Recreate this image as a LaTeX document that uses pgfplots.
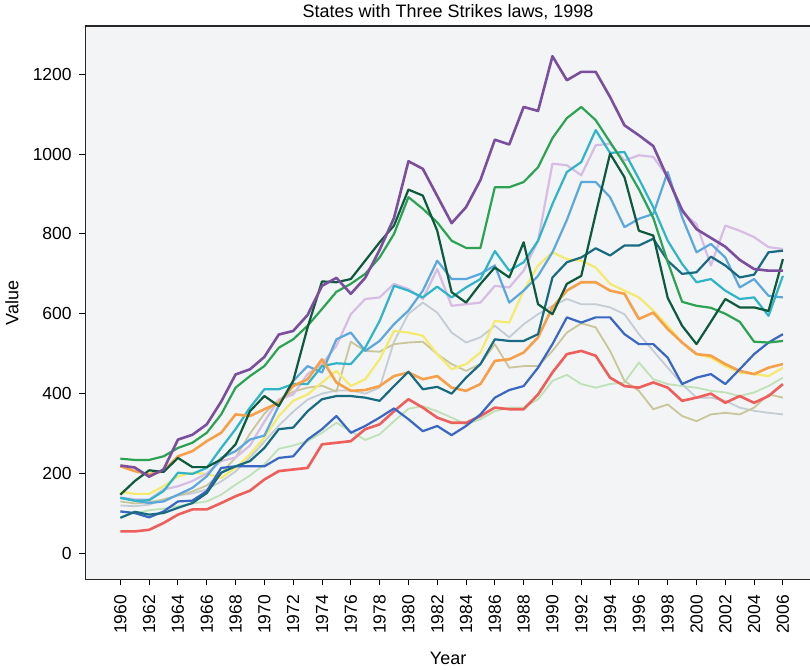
\documentclass[border=0pt]{standalone}
\usepackage{pgfplots}
\usepackage{pgfplotstable}
\pgfplotsset{compat=1.18}
\usepackage{fontspec}
\setmainfont{Liberation Sans}
\usetikzlibrary{calc}

\definecolor{cP}{HTML}{7B4F9E}
\definecolor{cG}{HTML}{2BA352}
\definecolor{cDG}{HTML}{0E5A3C}
\definecolor{cC}{HTML}{2FB4C8}
\definecolor{cLB}{HTML}{5CA7DE}
\definecolor{cL}{HTML}{D7BDE4}
\definecolor{cDT}{HTML}{186B80}
\definecolor{cY}{HTML}{F4EA6E}
\definecolor{cO}{HTML}{F7A04A}
\definecolor{cGR}{HTML}{C4CCD4}
\definecolor{cK}{HTML}{C9C69A}
\definecolor{cB}{HTML}{3A67C3}
\definecolor{cR}{HTML}{EE5E5A}
\definecolor{cLG}{HTML}{BEE2B6}
\definecolor{bgc}{HTML}{F3F4F6}

\pgfplotstableread{
year P G DG C LB L DT Y O GR K B R LG
1960 220 237 147 139 139 140 89 154 218 120 130 105 55 105
1961 215 234 181 132 132 135 104 149 206 118 125 101 55 100
1962 192 234 208 133 126 135 97 149 198 122 128 90 59 108
1963 210 243 204 156 130 160 101 168 206 135 135 105 76 112
1964 285 264 239 202 147 168 114 193 243 145 145 130 97 118
1965 297 277 216 199 164 181 126 202 256 150 155 132 110 125
1966 323 302 216 214 193 200 151 199 281 160 170 156 110 130
1967 380 348 235 264 239 231 202 189 302 180 200 214 126 147
1968 448 415 273 311 256 240 218 214 348 205 240 218 143 172
1969 461 444 356 365 285 270 231 248 344 240 300 218 157 195
1970 492 469 394 411 295 330 264 290 361 280 350 218 185 223
1971 548 515 369 411 370 385 311 344 377 320 385 239 206 262
1972 557 536 432 424 432 398 315 382 419 355 405 243 210 270
1973 597 570 566 424 469 449 356 398 436 385 415 285 214 281
1974 670 612 681 469 453 474 386 428 486 400 420 311 273 302
1975 690 655 679 476 536 520 394 457 428 408 405 344 277 327
1976 650 675 687 474 553 599 394 419 407 408 530 302 281 306
1977 690 700 733 515 507 637 390 436 409 400 507 319 311 284
1978 760 741 779 582 532 641 382 486 419 415 505 340 323 298
1979 840 800 821 670 574 675 419 557 444 530 524 363 356 331
1980 982 892 911 658 608 662 455 553 453 600 528 336 386 362
1981 963 863 896 641 658 637 411 545 436 628 530 306 365 369
1982 895 829 808 668 733 712 417 499 444 603 499 319 340 356
1983 827 783 654 641 687 620 400 461 415 553 474 296 327 340
1984 867 765 628 666 687 624 440 474 407 528 457 319 327 323
1985 935 765 675 687 700 628 474 503 424 541 474 348 344 336
1986 1036 917 716 757 721 670 536 582 482 570 524 390 365 356
1987 1024 917 691 708 628 666 532 578 486 541 465 409 361 365
1988 1118 930 779 729 658 708 532 658 503 574 469 419 361 365
1989 1108 967 624 783 695 783 549 721 541 599 469 465 398 386
1990 1245 1040 599 875 754 976 691 754 616 620 507 524 453 432
1991 1185 1090 675 955 835 972 729 737 658 637 553 591 499 447
1992 1206 1118 695 980 930 947 741 733 679 624 576 578 507 424
1993 1206 1085 850 1060 930 1022 764 716 679 624 566 591 495 415
1994 1143 1030 1001 1003 892 1026 746 675 658 616 507 591 440 424
1995 1072 975 942 1005 817 984 771 658 650 599 432 549 419 428
1996 1047 912 808 938 838 997 771 641 587 549 407 524 415 478
1997 1020 840 796 867 850 993 788 608 603 507 361 524 428 436
1998 940 730 640 783 955 942 733 570 562 465 373 490 415 424
1999 860 630 570 725 842 854 700 528 528 424 344 424 382 419
2000 812 620 524 679 754 825 704 499 499 390 331 440 390 415
2001 790 615 580 687 775 721 743 490 495 390 348 449 400 407
2002 768 600 637 658 741 821 721 469 474 382 352 424 377 403
2003 735 580 616 637 666 808 691 453 457 365 348 461 394 394
2004 712 530 616 641 687 792 698 449 449 357 365 499 377 403
2005 708 528 607 595 645 767 754 444 465 352 398 528 394 419
2006 708 532 737 695 641 762 758 465 474 348 390 549 424 440
}\data

\begin{document}
\begin{tikzpicture}
\begin{axis}[
  name=ax,
  scale only axis, width=724bp, height=552bp,
  xmin=1957.56, xmax=2007.95, ymin=-65.3, ymax=1320.6,
  axis background/.style={fill=bgc},
  axis line style={draw=black!85, line width=1.2pt},
  xtick={1960,1962,...,2006},
  ytick={0,200,...,1200},
  tick pos=left,
  tick align=outside, major tick length=6bp,
  tick style={black, line width=1pt},
  xticklabel shift=6bp,
  yticklabel shift=4bp,
  xticklabel style={rotate=90, anchor=east, font=\fontsize{17.5}{20}\selectfont},
  yticklabel style={font=\fontsize{17.5}{20}\selectfont},
  /pgf/number format/assume math mode=true,
  /pgf/number format/1000 sep={},
  title={States with Three Strikes laws, 1998},
  title style={font=\fontsize{18}{21}\selectfont, at={(axis description cs:0.5,1)}, anchor=south, yshift=-3bp},
  xlabel={Year}, ylabel={Value},
  xlabel style={font=\fontsize{18}{21}\selectfont, at={(axis description cs:0.5,-0.1431)}, anchor=center},
  ylabel style={font=\fontsize{18}{21}\selectfont, at={(axis description cs:-0.1008,0.5)}, anchor=center},
  no markers,
  every axis plot/.append style={line join=round, line width=2.2bp},
]
\addplot[cLG, line width=1.8bp] table[x=year, y=LG] {\data};
\addplot[cGR, line width=1.8bp] table[x=year, y=GR] {\data};
\addplot[cK, line width=1.8bp] table[x=year, y=K] {\data};
\addplot[cY] table[x=year, y=Y] {\data};
\addplot[cL] table[x=year, y=L] {\data};
\addplot[cLB] table[x=year, y=LB] {\data};
\addplot[cC] table[x=year, y=C] {\data};
\addplot[cO, line width=2.6bp] table[x=year, y=O] {\data};
\addplot[cR, line width=2.6bp] table[x=year, y=R] {\data};
\addplot[cB] table[x=year, y=B] {\data};
\addplot[cDT] table[x=year, y=DT] {\data};
\addplot[cG] table[x=year, y=G] {\data};
\addplot[cDG] table[x=year, y=DG] {\data};
\addplot[cP, line width=2.6bp] table[x=year, y=P] {\data};
\end{axis}
\pgfresetboundingbox
\path[use as bounding box] ($(ax.south west)+(-85bp,-90bp)$) rectangle ($(ax.north west)+(723bp,26bp)$);
\end{tikzpicture}
\end{document}
